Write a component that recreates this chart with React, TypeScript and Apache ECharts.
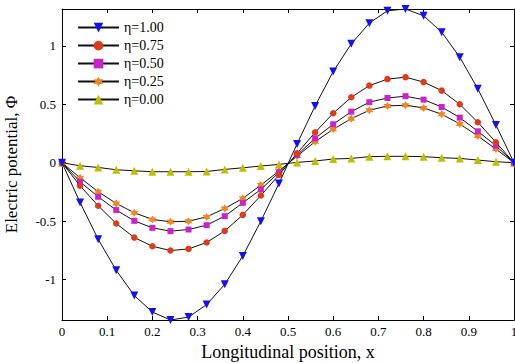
import React, { useEffect, useRef } from "react";
import * as echarts from "echarts";

// Longitudinal positions of the sampled nodes
const xs = [
  0, 0.04, 0.08, 0.12, 0.16, 0.2, 0.24, 0.28, 0.32, 0.36, 0.4, 0.44, 0.48,
  0.52, 0.56, 0.6, 0.64, 0.68, 0.72, 0.76, 0.8, 0.84, 0.88, 0.92, 0.96, 1,
];

// Electric potential for each eta
const eta100 = [
  0, -0.34, -0.654, -0.92, -1.136, -1.277, -1.345, -1.32, -1.213, -1.04, -0.797,
  -0.5, -0.177, 0.16, 0.486, 0.78, 1.017, 1.194, 1.3, 1.315, 1.257, 1.117,
  0.903, 0.632, 0.323, 0,
];
const eta075 = [
  0, -0.197, -0.368, -0.52, -0.64, -0.714, -0.751, -0.737, -0.682, -0.583,
  -0.446, -0.28, -0.105, 0.08, 0.26, 0.423, 0.56, 0.66, 0.715, 0.732, 0.69,
  0.617, 0.5, 0.346, 0.175, 0,
];
const eta050 = [
  0, -0.163, -0.291, -0.405, -0.497, -0.557, -0.585, -0.571, -0.534, -0.457,
  -0.343, -0.228, -0.083, 0.066, 0.209, 0.329, 0.437, 0.518, 0.554, 0.569,
  0.54, 0.477, 0.386, 0.269, 0.146, 0,
];
const eta025 = [
  0, -0.128, -0.248, -0.348, -0.428, -0.485, -0.505, -0.5, -0.463, -0.391,
  -0.305, -0.191, -0.071, 0.057, 0.18, 0.286, 0.377, 0.449, 0.486, 0.492,
  0.469, 0.415, 0.332, 0.229, 0.117, 0,
];
const eta000 = [
  0, -0.026, -0.04, -0.06, -0.069, -0.077, -0.077, -0.077, -0.075, -0.057,
  -0.043, -0.028, -0.014, 0.003, 0.015, 0.032, 0.037, 0.052, 0.055, 0.055,
  0.052, 0.043, 0.037, 0.023, 0.009, 0,
];

const seriesNames = ["η=1.00", "η=0.75", "η=0.50", "η=0.25", "η=0.00"];
const seriesValues = [eta100, eta075, eta050, eta025, eta000];

const X_MIN = 0;
const X_MAX = 1;
const Y_MIN = -1.345;
const Y_MAX = 1.315;

const FONT = "'Liberation Serif', 'Times New Roman', serif";

const markers = [
  { symbol: "path://M-5,-4 L5,-4 L0,5 Z", size: 8, color: "#1010ff" },
  { symbol: "circle", size: 6.5, color: "#e23a18" },
  { symbol: "rect", size: 6, color: "#cc22cc" },
  {
    symbol:
      "path://M0,-10 L2.9,-5 L8.7,-5 L5.8,0 L8.7,5 L2.9,5 L0,10 L-2.9,5 L-8.7,5 L-5.8,0 L-8.7,-5 L-2.9,-5 Z",
    size: 8,
    color: "#f0861e",
  },
  { symbol: "triangle", size: 8, color: "#c4bc00" },
];

const halfStepLabel = (v: number) => {
  const k = v / 0.5;
  if (Math.abs(k - Math.round(k)) > 1e-6) return "";
  return String(Math.round(k) * 0.5);
};

export default function App() {
  const ref = useRef<HTMLDivElement>(null);

  useEffect(() => {
    if (!ref.current) return;
    const chart = echarts.init(ref.current, undefined, { renderer: "svg" });

    const axisLine = {
      show: true,
      onZero: false,
      lineStyle: { color: "#000", width: 1 },
    };
    const tickInside = {
      show: true,
      inside: true,
      length: 4,
      lineStyle: { color: "#000", width: 1 },
    };

    chart.setOption({
      animation: false,
      backgroundColor: "#fff",
      grid: {
        left: 62,
        right: 1,
        top: 9,
        bottom: 43,
        containLabel: false,
        outerBoundsMode: "none",
      },
      legend: {
        left: 77,
        top: 20.6,
        padding: 0,
        orient: "vertical",
        itemWidth: 41,
        itemHeight: 12,
        itemGap: 4,
        textStyle: {
          fontFamily: FONT,
          fontSize: 14,
          lineHeight: 12,
          color: "#000",
        },
        data: seriesNames,
      },
      xAxis: [
        {
          type: "value",
          min: X_MIN,
          max: X_MAX,
          interval: 0.1,
          position: "bottom",
          axisLine,
          axisTick: tickInside,
          splitLine: { show: false },
          axisLabel: {
            fontFamily: FONT,
            fontSize: 13,
            color: "#000",
            margin: 5,
          },
          name: "Longitudinal position, x",
          nameLocation: "middle",
          nameGap: 20,
          nameTextStyle: { fontFamily: FONT, fontSize: 18, color: "#000" },
        },
        {
          type: "value",
          min: X_MIN,
          max: X_MAX,
          interval: 0.1,
          position: "top",
          axisLine,
          axisTick: tickInside,
          splitLine: { show: false },
          axisLabel: { show: false },
        },
      ],
      yAxis: [
        {
          type: "value",
          min: Y_MIN,
          max: Y_MAX,
          splitNumber: 5,
          position: "left",
          axisLine,
          axisTick: tickInside,
          splitLine: { show: false },
          axisLabel: {
            fontFamily: FONT,
            fontSize: 13,
            color: "#000",
            margin: 6,
            showMinLabel: false,
            showMaxLabel: false,
            formatter: halfStepLabel,
          },
          name: "Electric potential, Φ",
          nameLocation: "middle",
          nameGap: 42,
          nameTextStyle: { fontFamily: FONT, fontSize: 17, color: "#000" },
        },
        {
          type: "value",
          min: Y_MIN,
          max: Y_MAX,
          splitNumber: 5,
          position: "right",
          axisLine,
          axisTick: tickInside,
          splitLine: { show: false },
          axisLabel: { show: false },
        },
      ],
      series: seriesNames.map((name, i) => ({
        name,
        type: "line",
        xAxisIndex: 0,
        yAxisIndex: 0,
        data: xs.map((x, j) => [x, seriesValues[i][j]]),
        symbol: markers[i].symbol,
        symbolSize: markers[i].size,
        showAllSymbol: true,
        lineStyle: { color: "#111", width: 1 },
        itemStyle: { color: markers[i].color, borderWidth: 0 },
        emphasis: { disabled: true },
        z: 10 - i,
      })),
    });

    return () => chart.dispose();
  }, []);

  return (
    <div
      ref={ref}
      style={{ position: "fixed", left: 0, top: 0, width: 515, height: 363 }}
    />
  );
}
